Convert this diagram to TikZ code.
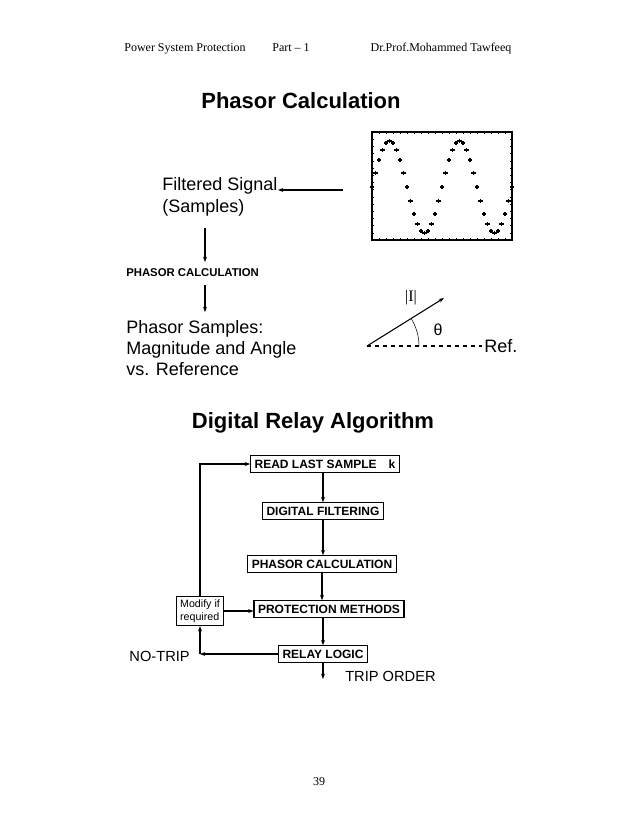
\documentclass[tikz,border=0pt]{standalone}
\usepackage{fontspec}
\setmainfont{Liberation Sans}
\newfontfamily\hdrfont{Liberation Serif}
\usetikzlibrary{arrows.meta}
\tikzset{
  flow/.style={draw, thick, fill=white, inner sep=3pt, font=\fontsize{9}{10}\selectfont\bfseries},
  arr/.style={-{Stealth[length=4pt,width=3pt]}, thick},
  big/.style={font=\fontsize{13.5}{16}\selectfont, inner sep=0pt},
  hdr/.style={font=\hdrfont\fontsize{9}{10}\selectfont, anchor=base},
}
\begin{document}
\begin{tikzpicture}[x=0.75pt,y=-0.75pt]
\useasboundingbox (0,0) rectangle (638,826);
% header
\node[hdr] (h1) at (185,51) {Power System Protection};
\node[hdr] (h2) at (291,51) {Part – 1};
\node[hdr] (h3) at (441,51) {Dr.Prof.Mohammed Tawfeeq};
\node[hdr] (pg) at (319,785) {39};
% phasor calculation
\node[font=\fontsize{16.5}{18}\selectfont\bfseries] (t1) at (301,101) {Phasor Calculation};
\draw[thick] (372,132) rectangle (512,240);
\foreach \i in {1,...,19} {
  \draw (372+\i*7,132) -- +(0,2);
  \draw (372+\i*7,240) -- +(0,-2);
}
\foreach \i in {1,...,14} {
  \draw (372,132+\i*7.2) -- +(2,0);
  \draw (512,132+\i*7.2) -- +(-2,0);
}
\foreach \i in {0,...,40}
  \draw[line width=1.2pt] (372+\i*3.5,{187-46*sin(\i*18)}) +(-2.2,0) -- +(2.2,0) +(0,-2.2) -- +(0,2.2);
\coordinate (sig) at (343,190);
\node[big, anchor=west, align=left] (fs) at (162,197) {Filtered Signal\\(Samples)};
\draw[arr] (sig) -- (278,190);
\node[anchor=west, inner sep=0pt, font=\fontsize{8.5}{10}\selectfont\bfseries] (pc) at (126,273) {PHASOR CALCULATION};
\draw[arr] (205,228) -- (205,262);
\draw[arr] (205,285) -- (205,312);
\node[big, anchor=north west, align=left] (ps) at (126,320) {Phasor Samples:\\Magnitude and Angle\\vs. Reference};
% phasor
\coordinate (o) at (367,346);
\coordinate (tip) at (444,298);
\draw[thick, dashed] (o) -- (482,346);
\node[big, anchor=west] (ref) at (484,346) {Ref.};
\draw[arr] (o) -- (tip);
\draw (o) ++(0:52) arc (0:-32:52);
\node[big, font=\fontsize{12}{14}\selectfont] (th) at (438,330) {θ};
\node[big, font=\hdrfont\fontsize{12}{14}\selectfont] (mag) at (411,298) {|I|};
% digital relay algorithm
\node[font=\fontsize{16.5}{18}\selectfont\bfseries] (t2) at (313,423) {Digital Relay Algorithm};
\node[flow] (read) at (325,464) {READ LAST SAMPLE\quad k};
\node[flow] (filt) at (323,511) {DIGITAL FILTERING};
\node[flow] (calc) at (322,564) {PHASOR CALCULATION};
\node[flow] (prot) at (329,609) {PROTECTION METHODS};
\node[flow] (logic) at (323,654) {RELAY LOGIC};
\node[draw, thick, align=left, inner sep=2.5pt, font=\fontsize{8}{9.5}\selectfont] (mod) at (200,611) {Modify if\\required};
\coordinate (nt) at (200,654);
\coordinate (trip) at (323,679);
\draw[arr] (read.south -| filt) -- (filt);
\draw[arr] (filt) -- (filt |- calc.north);
\draw[arr] (calc) -- (calc |- prot.north);
\draw[arr] (prot.south -| logic) -- (logic);
\draw[arr] (logic) -- (trip);
\draw[arr] (mod.east) -- (mod.east -| prot.west);
\draw[arr] (mod.north) |- (read.west);
\draw[arr] (logic.west) -- (nt);
\draw[arr] (nt) -- (mod.south);
\node[big, font=\fontsize{11}{13}\selectfont, anchor=east] (ntl) at (190,656) {NO-TRIP};
\node[big, font=\fontsize{11}{13}\selectfont, anchor=west] (tol) at (345,676) {TRIP ORDER};
\end{tikzpicture}
\end{document}
